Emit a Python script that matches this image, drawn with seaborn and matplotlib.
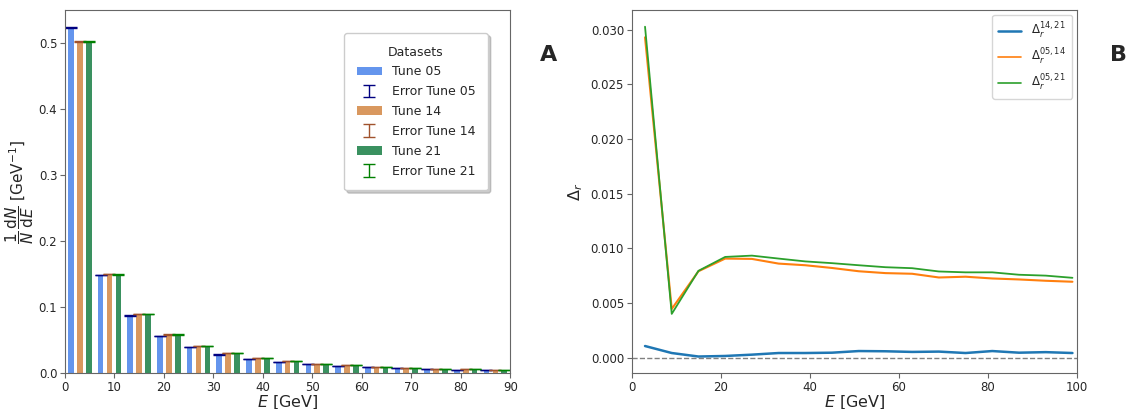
import numpy as np
import pandas as pd
import matplotlib
matplotlib.use("Agg")
import matplotlib.pyplot as plt
import seaborn as sns

sns.set_style("ticks")
plt.rcParams['font.family'] = ['DejaVu Sans']

# Panel A: normalised energy spectrum, 6 GeV bins from 0 to 90
bin_centers = np.arange(3, 90, 6)
tune05 = [0.5236, 0.1487, 0.0870, 0.0563, 0.0390, 0.0280, 0.0216, 0.0166,
          0.0130, 0.0105, 0.0085, 0.0070, 0.0060, 0.0050, 0.0045]
tune14 = [0.5025, 0.1500, 0.0894, 0.0583, 0.0407, 0.0300, 0.0226, 0.0180,
          0.0140, 0.0115, 0.0095, 0.0080, 0.0065, 0.0055, 0.0048]
tune21 = [0.5025, 0.1495, 0.0894, 0.0583, 0.0407, 0.0300, 0.0226, 0.0180,
          0.0140, 0.0115, 0.0095, 0.0080, 0.0065, 0.0055, 0.0048]
err05 = [0.0006, 0.0003, 0.0002, 0.0002, 0.0001, 0.0001, 0.0001, 0.0001,
         0.0001, 0.0001, 0.0001, 0.0001, 0.0001, 0.0001, 0.0001]
err14 = err05
err21 = err05

# Panel B: relative differences between tunes
e_points = np.arange(3, 100, 6)
d_14_21 = [0.00106, 0.00042, 0.00010, 0.00015, 0.00027, 0.00042, 0.00042, 0.00045,
           0.00060, 0.00058, 0.00052, 0.00055, 0.00042, 0.00060, 0.00045, 0.00050, 0.00042]
d_05_14 = [0.02930, 0.00445, 0.00790, 0.00906, 0.00903, 0.00860, 0.00845, 0.00820,
           0.00790, 0.00773, 0.00767, 0.00733, 0.00740, 0.00724, 0.00715, 0.00703, 0.00694]
d_05_21 = [0.03027, 0.00400, 0.00794, 0.00921, 0.00933, 0.00906, 0.00880, 0.00864,
           0.00845, 0.00827, 0.00818, 0.00788, 0.00780, 0.00780, 0.00758, 0.00750, 0.00730]

fig = plt.figure(figsize=(11.3, 4.09), dpi=100)
ax1 = fig.add_axes([0.0575, 0.088, 0.394, 0.887])
ax2 = fig.add_axes([0.559, 0.088, 0.394, 0.887])

# bars
tunes = [("Tune 05", tune05, err05, "cornflowerblue", "navy", -1.8),
         ("Tune 14", tune14, err14, "#D9985F", "sienna", 0.0),
         ("Tune 21", tune21, err21, "#3A9160", "green", 1.8)]
for name, vals, errs, col, ecol, off in tunes:
    x = bin_centers + off
    ax1.bar(x, vals, width=1.15, color=col, linewidth=0, label=name)
    ax1.errorbar(x, vals, yerr=errs, fmt='none', ecolor=ecol, capsize=4,
                 elinewidth=1.0, capthick=1.0, label="Error " + name)

ax1.set_xlim(0, 90)
ax1.set_ylim(0, 0.55)
ax1.set_xlabel(r"$E$ [GeV]", fontsize=11.5, labelpad=0)
ax1.set_ylabel(r"$\dfrac{1}{N}\,\dfrac{\mathrm{d}N}{\mathrm{d}E}$ [GeV$^{-1}$]", fontsize=11,
               labelpad=2)
leg1 = ax1.legend(title="Datasets", loc="upper right", bbox_to_anchor=(0.95, 0.937),
                  borderaxespad=0, shadow=dict(color="0.6", alpha=0.5),
                  framealpha=1, fontsize=9, title_fontsize=9,
                  borderpad=1.0, handlelength=2.0, labelspacing=0.55)
leg1.get_frame().set_edgecolor("#cccccc")

# lines
df = pd.DataFrame({
    "E": np.concatenate([e_points] * 3),
    "delta": np.concatenate([d_14_21, d_05_14, d_05_21]),
    "pair": [r"$\Delta_r^{14,21}$"] * len(e_points)
            + [r"$\Delta_r^{05,14}$"] * len(e_points)
            + [r"$\Delta_r^{05,21}$"] * len(e_points),
})
sns.lineplot(data=df, x="E", y="delta", hue="pair", ax=ax2,
             palette=["tab:blue", "tab:orange", "tab:green"], linewidth=1.5)
for line, lw in zip(ax2.get_lines(), [1.8, 1.5, 1.3]):
    line.set_linewidth(lw)
ax2.axhline(0, color="gray", linestyle="--", linewidth=1)
ax2.set_xlim(0, 100)
ax2.set_xlabel(r"$E$ [GeV]", fontsize=11.5, labelpad=0)
ax2.set_ylabel(r"$\Delta_r$", fontsize=11.5, labelpad=4)
leg2 = ax2.legend(loc="upper right", fontsize=8.5, title=None, handlelength=1.9,
                  borderaxespad=0.4, borderpad=0.5, handletextpad=0.9)
for line, lw in zip(leg2.get_lines(), [1.8, 1.2, 1.2]):
    line.set_linewidth(lw)
leg2.get_frame().set_edgecolor("#cccccc")

for ax in (ax1, ax2):
    for s in ax.spines.values():
        s.set_visible(True)
        s.set_color("#666666")
    ax.tick_params(labelsize=8.5, length=3.5, color="#666666", pad=2)

fig.text(0.478, 0.85, "A", fontsize=16, fontweight="bold", family=["DejaVu Sans"])
fig.text(0.982, 0.85, "B", fontsize=16, fontweight="bold", family=["DejaVu Sans"])

fig.savefig("out.png", dpi=100)
